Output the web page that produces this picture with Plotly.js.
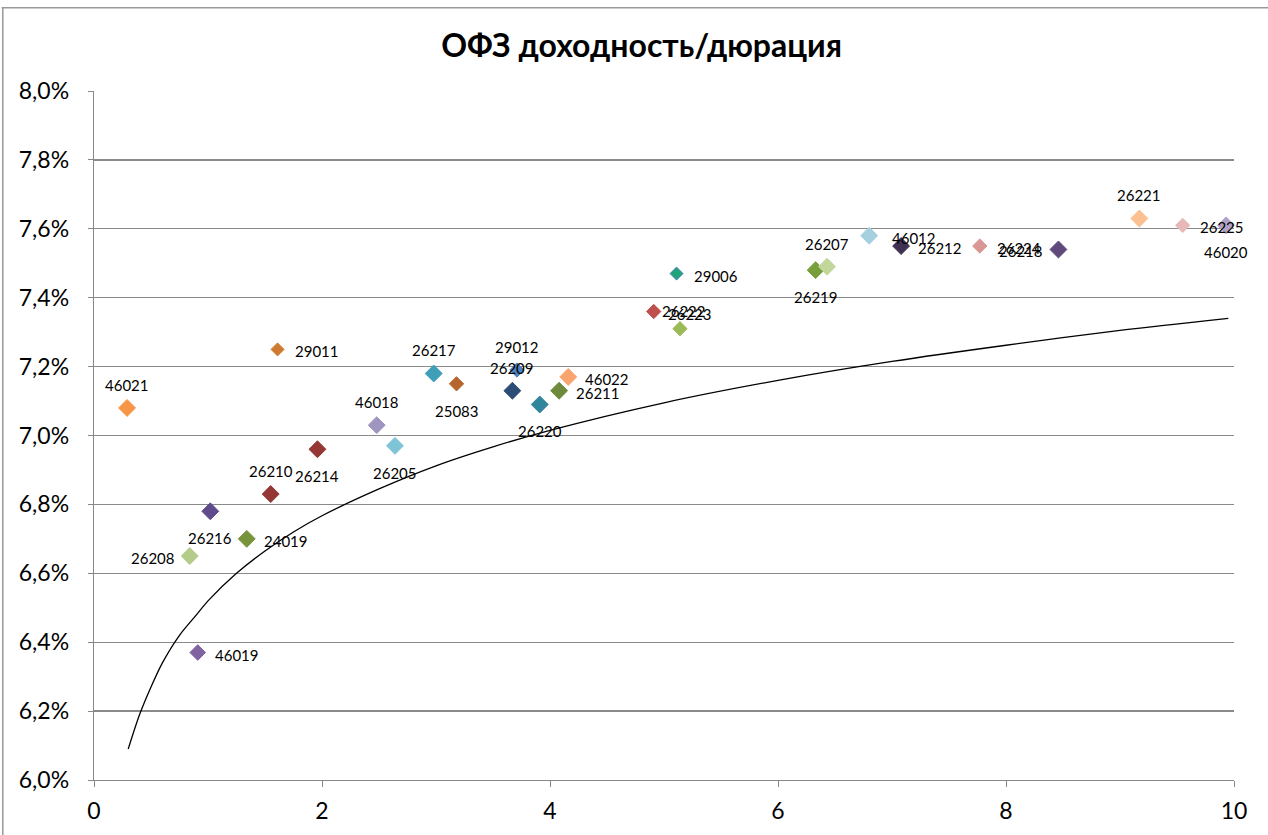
<!DOCTYPE html>
<html><head><meta charset="utf-8">
<script src="https://cdn.plot.ly/plotly-3.0.1.min.js"></script>
<style>html,body{margin:0;padding:0;background:#fff}#c{width:1268px;height:835px}</style>
</head><body><div id="c"></div>
<script>
// Bond codes (ОФЗ)
const codes = ['46021','29011','26208','26216','24019','46019','26210','26214','46018','26205',
  '26217','25083','26209','29012','26220','26211','46022','26222','26223','29006',
  '26219','26207','46012','26212','26224','26218','26221','26225','46020'];
// Duration, years
const duration = [0.29,1.61,0.84,1.02,1.34,0.91,1.55,1.96,2.48,2.64,
  2.98,3.18,3.67,3.71,3.91,4.08,4.16,4.91,5.14,5.11,
  6.33,6.43,6.80,7.08,7.77,8.46,9.17,9.55,9.93];
// Yield, %
const yieldPct = [7.08,7.25,6.65,6.78,6.70,6.37,6.83,6.96,7.03,6.97,
  7.18,7.15,7.13,7.19,7.09,7.13,7.17,7.36,7.31,7.47,
  7.48,7.49,7.58,7.55,7.55,7.54,7.63,7.61,7.61];
// Trend line
const trendX = [0.3,0.4,0.5,0.6,0.75,0.9,1,1.25,1.5,1.75,2,2.5,3,3.5,4,5,6,7,8,9,9.95];
const trendY = [6.09,6.19,6.27,6.34,6.42,6.48,6.52,6.60,6.665,6.72,6.767,6.845,6.912,6.967,7.015,7.095,7.16,7.215,7.262,7.305,7.34];

// styles
const colors = ['#F79646','#D07A30','#B3CC8A','#5F4B8B','#77933C','#8064A2','#943634','#953735','#A095C0','#7FC4D6',
  '#3F9FB8','#B6662D','#2C4D75','#4F81BD','#31859C','#6F8A3A','#F9A46F','#C0504D','#9BBB59','#1FA37A',
  '#77A03C','#C3D69B','#A5D0DF','#403152','#D99694','#604A7B','#FAC090','#E6B9B8','#B3A2C7'];
const lineColors = colors.map((c,i)=> codes[i]==='29006' ? '#4F81BD' : c);
const sizes = [13,10,13,13,13,12,13,13,13,13,
  13,11,13,11,13,13,13,11,11,10,
  13,13,13,13,11,13,13,11,13];
const pos = ['t','r','l','b','r','r','t','b','t','b',
  't','b','t','t','b','r','r','r','t','r',
  'b','t','r','r','r','l','t','r','b'];
// small label nudges (px) to mimic the reference's overlapping labels
const nudgeX = {'26222':-9,'26223':10,'46012':6};
const nudgeY = {'26222':2,'26223':-8};

const traces = codes.map((c,i)=>({
  type:'scatter', mode:'markers',
  x:[duration[i]], y:[yieldPct[i]/100],
  marker:{symbol:'diamond', size:sizes[i], color:colors[i], line:{color:lineColors[i], width:1}},
  cliponaxis:false, name:c
}));
traces.push({
  type:'scatter', mode:'lines', x:trendX, y:trendY.map(v=>v/100),
  line:{color:'#000', width:1.3, shape:'spline', smoothing:0.8}, hoverinfo:'skip', name:'trend'
});

const off = {
  t:{xanchor:'center', yanchor:'middle', xshift:0, yshift:23},
  b:{xanchor:'center', yanchor:'middle', xshift:0, yshift:-27},
  r:{xanchor:'left', yanchor:'middle', xshift:15, yshift:-2},
  l:{xanchor:'right', yanchor:'middle', xshift:-13, yshift:-2}
};
const annotations = codes.map((c,i)=>{
  const o = off[pos[i]];
  return {
    x:duration[i], y:yieldPct[i]/100, xref:'x', yref:'y', text:c, showarrow:false,
    xanchor:o.xanchor, yanchor:o.yanchor,
    xshift:o.xshift + (nudgeX[c]||0), yshift:o.yshift + (nudgeY[c]||0),
    font:{family:'Lato, Carlito, sans-serif', size:15, color:'#000'}
  };
});
// draw 26222 label last so it sits on top as in the reference
const i22 = codes.indexOf('26222');
annotations.push(annotations.splice(i22,1)[0]);

const layout = {
  width:1268, height:835,
  margin:{l:94, r:34, t:91, b:55},
  paper_bgcolor:'#fff', plot_bgcolor:'#fff',
  showlegend:false,
  separators:', ',
  font:{family:'Lato, Carlito, sans-serif', color:'#000'},
  title:{text:'<b>ОФЗ доходность/дюрация</b>', x:0.506, xanchor:'center', y:0.945, yanchor:'middle',
    font:{family:'Lato, Carlito, sans-serif', size:32, color:'#000'}},
  xaxis:{range:[0,10], dtick:2, tick0:0, showgrid:false, zeroline:false,
    showline:true, linecolor:'#888', linewidth:1.3, ticks:'outside', ticklen:6, tickcolor:'#888',
    ticklabelstandoff:4, tickfont:{size:23, color:'#000'}},
  yaxis:{range:[0.06,0.08], dtick:0.002, tick0:0.06, tickformat:'.1%',
    showgrid:true, gridcolor:'#8a8a8a', gridwidth:1.2, zeroline:false,
    showline:true, linecolor:'#888', linewidth:1.3, ticks:'outside', ticklen:5, tickcolor:'#888',
    ticklabelstandoff:14, tickfont:{size:23, color:'#000'}},
  annotations: annotations,
  shapes:[
    {type:'line', xref:'paper', yref:'paper', x0:-0.081, x1:1.1, y0:1.121, y1:1.121, line:{color:'#999', width:1.5}},
    {type:'line', xref:'paper', yref:'paper', x0:-0.080, x1:-0.080, y0:1.121, y1:-0.2, line:{color:'#999', width:1.5}}
  ]
};
Plotly.newPlot('c', traces, layout, {displayModeBar:false, staticPlot:true});
</script></body></html>
